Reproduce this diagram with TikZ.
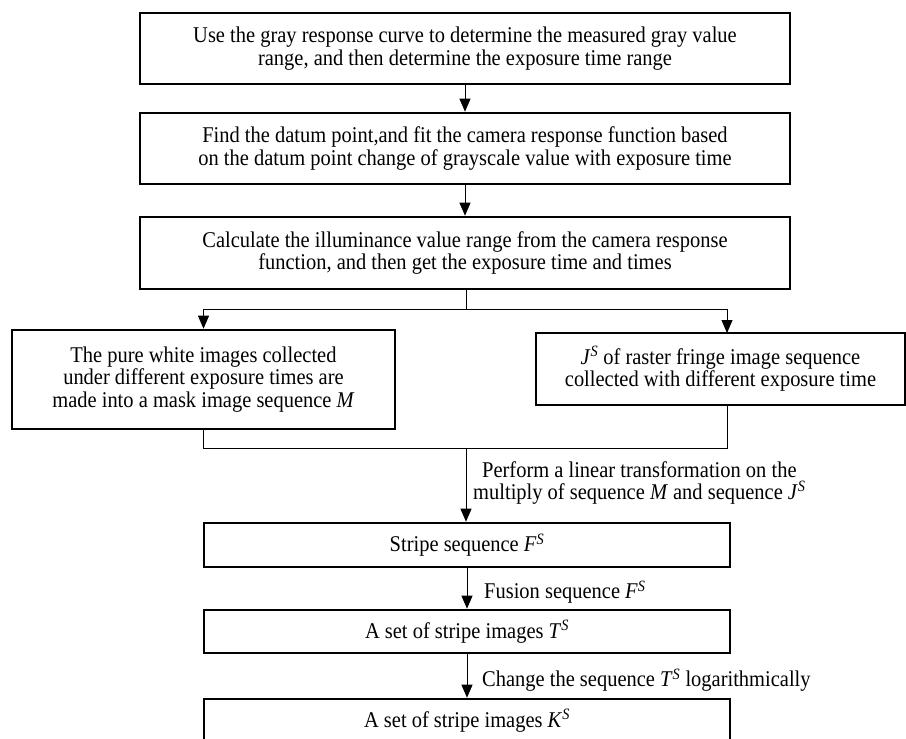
\documentclass[tikz,border=0pt]{standalone}
\usepackage{fontspec}
\setmainfont{Liberation Serif}[FakeStretch=0.91]
\usetikzlibrary{arrows.meta}
\tikzset{
  boxnode/.style={draw=black, line width=2.6pt, rectangle, align=center, inner sep=0pt,
    font=\fontsize{22.5}{22.5}\selectfont},
  conn/.style={line width=0.9pt, draw=black},
  arr/.style={conn, -{Triangle[width=11pt,length=13pt]}},
  lbl/.style={align=center, inner sep=0pt, font=\fontsize{22.5}{22}\selectfont},
}
\newcommand{\supS}{\textsuperscript{\itshape S}}
\begin{document}
\begin{tikzpicture}[x=1pt,y=-1pt]
\useasboundingbox (0,0) rectangle (906,739);
\node[boxnode, minimum width=650pt, minimum height=71pt] (b1) at (465,48.5)
  {Use the gray response curve to determine the measured gray value\\range, and then determine the exposure time range};
\node[boxnode, minimum width=650pt, minimum height=71pt] (b2) at (465,148.5)
  {Find the datum point,and fit the camera response function based\\on the datum point change of grayscale value with exposure time};
\node[boxnode, minimum width=650pt, minimum height=72pt] (b3) at (465,253)
  {Calculate the illuminance value range from the camera response\\function, and then get the exposure time and times};
\node[boxnode, minimum width=383pt, minimum height=99pt] (lb) at (203.5,379.5)
  {The pure white images collected\\under different exposure times are\\made into a mask image sequence \textit{M}};
\node[boxnode, minimum width=369pt, minimum height=72pt] (rb) at (720.5,369)
  {\textit{J}\supS{} of raster fringe image sequence\\collected with different exposure time};
\node[boxnode, minimum width=526pt, minimum height=44pt] (sf) at (467,545)
  {Stripe sequence \textit{F}\supS};
\node[boxnode, minimum width=526pt, minimum height=43pt] (st) at (467,631.5)
  {A set of stripe images \textit{T}\supS};
\node[boxnode, minimum width=526pt, minimum height=43pt] (sk) at (467,720.5)
  {A set of stripe images \textit{K}\supS};

\coordinate (br) at (466,309);
\coordinate (mg) at (466,448);
\coordinate (rtop) at (727,333);
\coordinate (rbot) at (727,405);

\draw[arr] (b1.south) -- (b2.north);
\draw[arr] (b2.south) -- (b3.north);
\draw[conn] (br |- b3.south) -- (br);
\draw[arr] (br) -| (lb.north);
\draw[arr] (br) -| (rtop);
\draw[conn] (lb.south) |- (mg);
\draw[conn] (rbot) |- (mg);
\draw[arr] (mg) -- (mg |- sf.north);
\draw[arr] (sf.south) -- (st.north);
\draw[arr] (st.south) -- (sk.north);

\node[lbl, anchor=west] (l1) at (473,483)
  {Perform a linear transformation on the\\multiply of sequence \textit{M} and sequence \textit{J}\supS};
\node[lbl, anchor=west] (l2) at (484,592) {Fusion sequence \textit{F}\supS};
\node[lbl, anchor=west] (l3) at (482,680) {Change the sequence \textit{T}\supS{} logarithmically};
\end{tikzpicture}
\end{document}
